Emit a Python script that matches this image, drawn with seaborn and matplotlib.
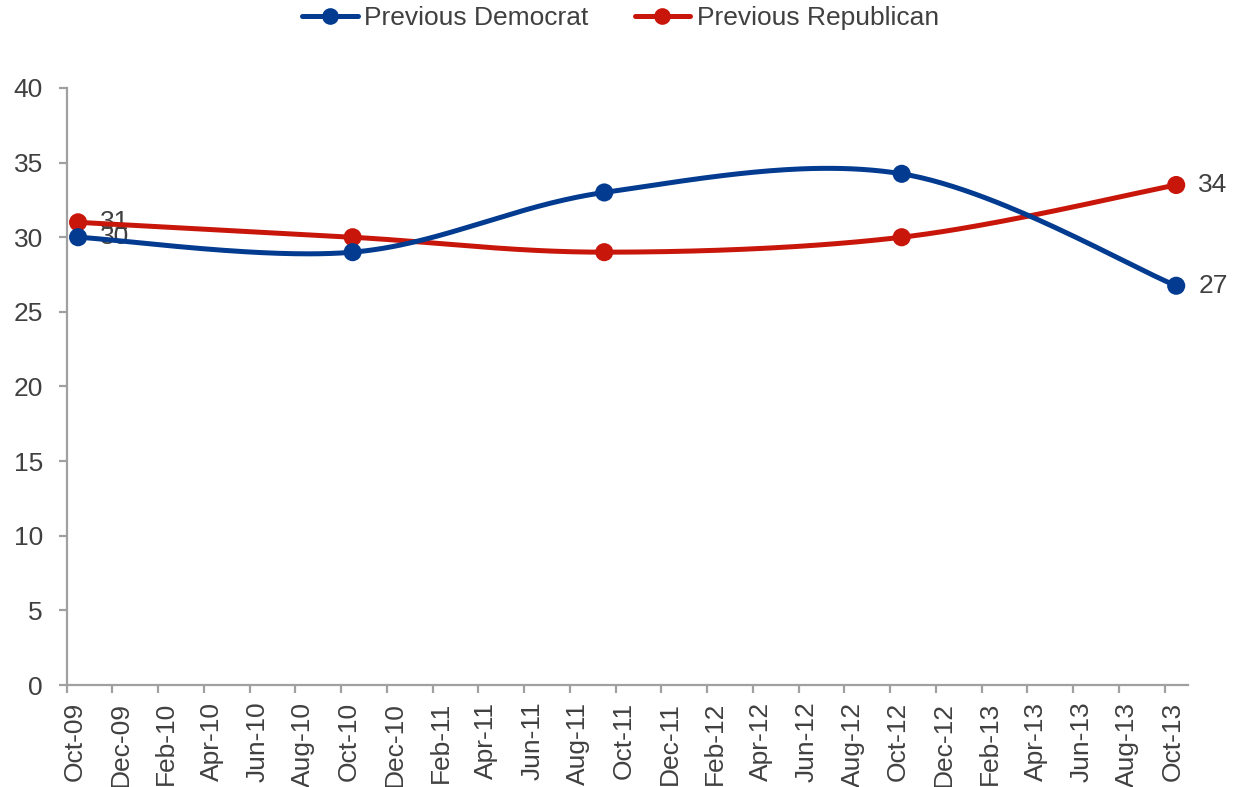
import numpy as np
import pandas as pd
import matplotlib
matplotlib.use("Agg")
import matplotlib.pyplot as plt
import seaborn as sns
from matplotlib.lines import Line2D
from matplotlib.transforms import ScaledTranslation

# Survey waves (year-month) and share of respondents for each group
survey_months = ["2009-10", "2010-10", "2011-09", "2012-10", "2013-10"]
previous_democrat = [30.0, 29.0, 33.0, 34.25, 26.75]
previous_republican = [31.0, 30.0, 29.0, 30.0, 33.5]
series_names = ["Previous Democrat", "Previous Republican"]

# Bimonthly axis labels
tick_labels = ["Oct-09", "Dec-09", "Feb-10", "Apr-10", "Jun-10", "Aug-10",
               "Oct-10", "Dec-10", "Feb-11", "Apr-11", "Jun-11", "Aug-11",
               "Oct-11", "Dec-11", "Feb-12", "Apr-12", "Jun-12", "Aug-12",
               "Oct-12", "Dec-12", "Feb-13", "Apr-13", "Jun-13", "Aug-13",
               "Oct-13"]
y_ticks = [0, 5, 10, 15, 20, 25, 30, 35, 40]

COLORS = {"Previous Democrat": "#023B8F", "Previous Republican": "#C8160A"}
TEXT = "#404040"
AXIS = "#A0A0A0"
FS = 19


def month_index(ym, start="2009-10"):
    y, m = map(int, ym.split("-"))
    y0, m0 = map(int, start.split("-"))
    return (y - y0) * 12 + (m - m0)


def smooth_curve(xs, ys, n=60):
    """Cubic Bezier smoothing through every point (Catmull-Rom style)."""
    pts = np.column_stack([xs, ys]).astype(float)
    k = len(pts)
    parts = []
    t = np.linspace(0, 1, n)[:, None]
    for i in range(k - 1):
        p0 = pts[max(i - 1, 0)]
        p1 = pts[i]
        p2 = pts[i + 1]
        p3 = pts[min(i + 2, k - 1)]
        c1 = p1 + (p2 - p0) / 6.0
        c2 = p2 - (p3 - p1) / 6.0
        seg = ((1 - t) ** 3) * p1 + 3 * ((1 - t) ** 2) * t * c1 \
            + 3 * (1 - t) * t ** 2 * c2 + t ** 3 * p2
        parts.append(seg if i == 0 else seg[1:])
    return np.vstack(parts)


x_pos = np.array([month_index(m) for m in survey_months], dtype=float)

points = pd.DataFrame({
    "x": np.concatenate([x_pos, x_pos]),
    "value": previous_democrat + previous_republican,
    "series": [series_names[0]] * len(x_pos) + [series_names[1]] * len(x_pos),
})

curves = []
for name, vals in zip(series_names, [previous_democrat, previous_republican]):
    c = smooth_curve(x_pos, vals)
    curves.append(pd.DataFrame({"x": c[:, 0], "value": c[:, 1], "series": name}))
curves = pd.concat(curves, ignore_index=True)

sns.set_theme(style="white")
plt.rcParams["font.family"] = ["Liberation Sans", "DejaVu Sans"]

fig = plt.figure(figsize=(12.41, 7.87), dpi=100)
ax = fig.add_axes([0.0537, 0.1296, 0.957 - 0.0537, 0.8882 - 0.1296])

# Republican drawn first, Democrat on top
order = [series_names[1], series_names[0]]
for z, name in enumerate(order):
    sub_c = curves[curves["series"] == name]
    sub_p = points[points["series"] == name]
    sns.lineplot(data=sub_c, x="x", y="value", sort=False, color=COLORS[name],
                 linewidth=3.6, ax=ax, zorder=3 + z, legend=False)
    sns.scatterplot(data=sub_p, x="x", y="value", color=COLORS[name], s=170,
                    edgecolor="none", ax=ax, zorder=3 + z, legend=False)

# Value labels on the first and last waves
for name, vals in zip(series_names, [previous_democrat, previous_republican]):
    for idx in (0, len(vals) - 1):
        ax.annotate(f"{vals[idx]:.0f}", (x_pos[idx], vals[idx]),
                    xytext=(16, 0), textcoords="offset points",
                    ha="left", va="center", fontsize=FS, color=TEXT, zorder=2)

ax.set_xlim(-0.5, 48.5)
ax.set_ylim(0, 40)
ax.set_xticks(np.arange(0, 49, 2) - 0.5)
ax.set_xticklabels(tick_labels, rotation=90, fontsize=FS, color=TEXT)
ax.set_yticks(y_ticks)
ax.set_yticklabels([str(v) for v in y_ticks], fontsize=FS, color=TEXT)
ax.set_xlabel("")
ax.set_ylabel("")

for side in ("top", "right"):
    ax.spines[side].set_visible(False)
for side in ("left", "bottom"):
    ax.spines[side].set_color(AXIS)
    ax.spines[side].set_linewidth(1.6)
ax.tick_params(axis="both", which="major", length=6, width=1.6, color=AXIS,
               direction="out", left=True, bottom=True)
ax.tick_params(axis="y", pad=11)
ax.tick_params(axis="x", pad=6)

shift = ScaledTranslation(8 / 100, 0, fig.dpi_scale_trans)
for lab in ax.get_xticklabels():
    lab.set_transform(lab.get_transform() + shift)

handles = [Line2D([], [], color=COLORS[n], linewidth=3.6, marker="o",
                  markersize=12, markeredgewidth=0) for n in series_names]
fig.legend(handles, series_names, loc="center", bbox_to_anchor=(0.5, 0.977),
           ncol=2, frameon=False, fontsize=FS, handlelength=2.1,
           handletextpad=0.25, columnspacing=1.75, numpoints=1,
           labelcolor=TEXT)

fig.savefig("out.png", dpi=100)
